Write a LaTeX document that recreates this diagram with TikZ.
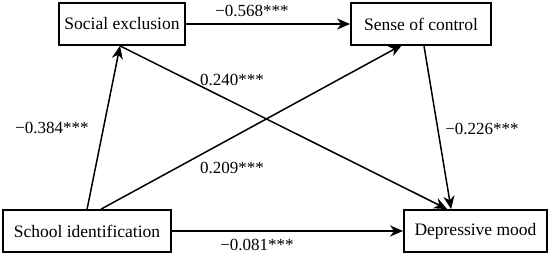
\documentclass[tikz,border=0pt]{standalone}
\usepackage{fontspec}
\setmainfont{Liberation Serif}
\newfontfamily\diagfont{Liberation Serif}
\usetikzlibrary{arrows.meta,calc}
\begin{document}
\begin{tikzpicture}[x=1pt,y=-1pt,
  box/.style={draw,line width=1.8pt,minimum height=42pt,inner sep=0pt,font=\diagfont\fontsize{17.5}{20}\selectfont},
  arr/.style={line width=1.5pt,-{Stealth[length=13pt,width=11pt,inset=4pt]}},
  lab/.style={font=\diagfont\fontsize{17}{20}\selectfont,inner sep=0pt}]
\useasboundingbox (0,0) rectangle (550,260);
\node[box,minimum width=126pt] (SE) at (122,24) {Social exclusion};
\node[box,minimum width=140pt] (SC) at (421,24) {Sense of control};
\node[box,minimum width=168pt] (SI) at (87,231) {School identification};
\node[box,minimum width=143pt] (DM) at (475.5,231) {Depressive mood};
\draw[arr] (SE.east) -- (SC.west);
\draw[arr] ([xshift=85pt]SI.north west) -- ([xshift=-2pt]SE.south);
\draw[arr] ([xshift=99pt]SI.north west) -- ([xshift=52pt,yshift=1pt]SC.south west);
\draw[arr] ([xshift=-2pt]SE.south) -- ([xshift=44pt]DM.north west);
\draw[arr] ([xshift=3pt]SC.south) -- ([xshift=48pt]DM.north west);
\draw[arr] (SI.east) -- (DM.west);
\node[lab] (l1) at (252,11) {−0.568***};
\node[lab] (l2) at (52,128) {−0.384***};
\node[lab] (l3) at (232,80) {0.240***};
\node[lab] (l4) at (232,168) {0.209***};
\node[lab] (l5) at (482,129) {−0.226***};
\node[lab] (l6) at (257,245) {−0.081***};
\end{tikzpicture}
\end{document}
